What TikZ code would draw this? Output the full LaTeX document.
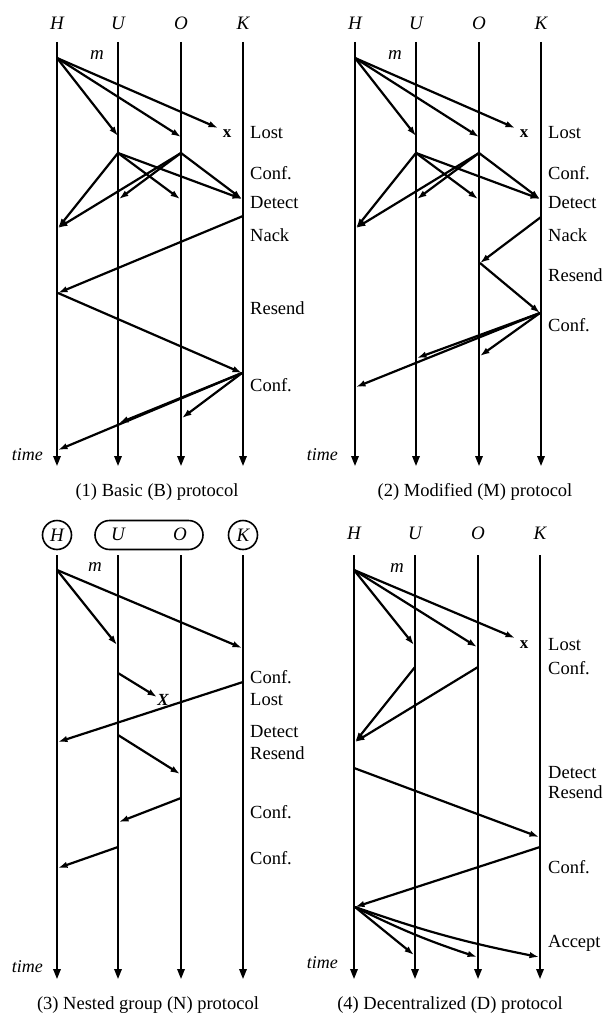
\documentclass[tikz,border=0pt]{standalone}
\usepackage{fontspec}
\setmainfont{Liberation Serif}
\usetikzlibrary{arrows.meta}
\tikzset{
  life/.style={line width=1.7pt, -{Triangle[length=10pt,width=7.5pt]}},
  msg/.style={line width=2.2pt, -{Latex[length=9.5pt,width=6.5pt]}},
  lbl/.style={font=\fontsize{18.5}{20}\selectfont, anchor=west, inner sep=0pt},
  proc/.style={font=\fontsize{19}{20}\selectfont\itshape, inner sep=0pt},
  captext/.style={font=\fontsize{18.5}{20}\selectfont, inner sep=0pt},
  tm/.style={font=\fontsize{18}{20}\selectfont\itshape, anchor=east, inner sep=0pt},
  lostx/.style={font=\fontsize{17}{18}\selectfont\bfseries, inner sep=0pt},
  grp/.style={draw, line width=1.6pt},
}
\begin{document}
\begin{tikzpicture}[x=1pt,y=-1pt]
\useasboundingbox (0,0) rectangle (607,1016);

% ================= Panel 1 =================
\foreach \n/\x in {H/57,U/118,O/181,K/243}{
  \node[proc] (\n1) at (\x,23) {\n};
  \coordinate (\n1t) at (\x,42);
  \coordinate (\n1b) at (\x,466);
  \draw[life] (\n1t) -- (\n1b);
}
\node[proc] (m1) at (97,55) {m};
\coordinate (p1a) at (57,58);
\coordinate (p1u1) at (118,136);
\coordinate (p1o1) at (181,137);
\coordinate (p1xt) at (218,128);
\node[lostx] (X1) at (227,134) {x};
\draw[msg] (p1a) -- (p1u1);
\draw[msg] (p1a) -- (p1o1);
\draw[msg] (p1a) -- (p1xt);
\coordinate (p1uc) at (118,153);
\coordinate (p1oc) at (181,153);
\coordinate (p1hd) at (58,228);
\coordinate (p1ud) at (119,199);
\coordinate (p1od) at (180,199);
\coordinate (p1kd) at (242,199);
\draw[msg] (p1uc) -- (p1hd);
\draw[msg] (p1uc) -- (p1od);
\draw[msg] (p1uc) -- (p1kd);
\draw[msg] (p1oc) -- (p1hd);
\draw[msg] (p1oc) -- (p1ud);
\draw[msg] (p1oc) -- (p1kd);
\coordinate (p1kn) at (243,216);
\coordinate (p1hn) at (58,293);
\coordinate (p1kr) at (242,373);
\draw[msg] (p1kn) -- (p1hn);
\draw[msg] (p1hn) -- (p1kr);
\coordinate (p1hc) at (58,450);
\coordinate (p1uc2) at (119,423);
\coordinate (p1oc2) at (182,418);
\draw[msg] (p1kr) -- (p1hc);
\draw[msg] (p1kr) -- (p1uc2);
\draw[msg] (p1kr) -- (p1oc2);
\node[lbl] (L1a) at (250,133) {Lost};
\node[lbl] (L1b) at (250,173) {Conf.};
\node[lbl] (L1c) at (250,203) {Detect};
\node[lbl] (L1d) at (250,235) {Nack};
\node[lbl] (L1e) at (250,308) {Resend};
\node[lbl] (L1f) at (250,385) {Conf.};
\node[tm] (T1) at (43,455) {time};
\node[captext] (C1) at (157,492) {(1) Basic (B) protocol};

% ================= Panel 2 =================
\foreach \n/\x in {H/355,U/416,O/479,K/541}{
  \node[proc] (\n2) at (\x,23) {\n};
  \coordinate (\n2t) at (\x,42);
  \coordinate (\n2b) at (\x,466);
  \draw[life] (\n2t) -- (\n2b);
}
\node[proc] (m2) at (395,55) {m};
\coordinate (p2a) at (355,58);
\coordinate (p2u1) at (416,136);
\coordinate (p2o1) at (479,137);
\coordinate (p2xt) at (515,128);
\node[lostx] (X2) at (524,134) {x};
\draw[msg] (p2a) -- (p2u1);
\draw[msg] (p2a) -- (p2o1);
\draw[msg] (p2a) -- (p2xt);
\coordinate (p2uc) at (416,153);
\coordinate (p2oc) at (479,153);
\coordinate (p2hd) at (356,228);
\coordinate (p2ud) at (417,199);
\coordinate (p2od) at (478,199);
\coordinate (p2kd) at (540,199);
\draw[msg] (p2uc) -- (p2hd);
\draw[msg] (p2uc) -- (p2od);
\draw[msg] (p2uc) -- (p2kd);
\draw[msg] (p2oc) -- (p2hd);
\draw[msg] (p2oc) -- (p2ud);
\draw[msg] (p2oc) -- (p2kd);
\coordinate (p2kn) at (541,217);
\coordinate (p2on) at (480,263);
\coordinate (p2kr) at (540,313);
\draw[msg] (p2kn) -- (p2on);
\draw[msg] (p2on) -- (p2kr);
\coordinate (p2hc) at (356,387);
\coordinate (p2uc2) at (417,358);
\coordinate (p2oc2) at (480,356);
\draw[msg] (p2kr) -- (p2hc);
\draw[msg] (p2kr) -- (p2uc2);
\draw[msg] (p2kr) -- (p2oc2);
\node[lbl] (L2a) at (548,133) {Lost};
\node[lbl] (L2b) at (548,173) {Conf.};
\node[lbl] (L2c) at (548,203) {Detect};
\node[lbl] (L2d) at (548,235) {Nack};
\node[lbl] (L2e) at (548,275) {Resend};
\node[lbl] (L2f) at (548,325) {Conf.};
\node[tm] (T2) at (338,455) {time};
\node[captext] (C2) at (475,492) {(2) Modified (M) protocol};

% ================= Panel 3 =================
\node[proc, grp, circle, minimum size=29pt] (H3) at (57,535) {H};
\node[grp, rounded corners=14.5pt, minimum width=108pt, minimum height=29pt, inner sep=0pt] (UO3) at (149,535) {};
\node[proc] (U3) at (118,534) {U};
\node[proc] (O3) at (180,534) {O};
\node[proc, grp, circle, minimum size=29pt] (K3) at (243,535) {K};
\foreach \n/\x in {H/57,U/118,O/181,K/243}{
  \coordinate (\n3t) at (\x,555);
  \coordinate (\n3b) at (\x,979);
  \draw[life] (\n3t) -- (\n3b);
}
\node[proc] (m3) at (95,567) {m};
\coordinate (p3a) at (57,570);
\coordinate (p3u1) at (117,645);
\coordinate (p3k1) at (242,648);
\draw[msg] (p3a) -- (p3u1);
\draw[msg] (p3a) -- (p3k1);
\coordinate (p3uc) at (118,673);
\coordinate (p3xt) at (157,697);
\node[lostx, font=\fontsize{17}{18}\selectfont\bfseries\itshape] (X3) at (163,700) {X};
\draw[msg] (p3uc) -- (p3xt);
\coordinate (p3kc) at (243,682);
\coordinate (p3hd) at (58,742);
\draw[msg] (p3kc) -- (p3hd);
\coordinate (p3ur) at (118,735);
\coordinate (p3or) at (180,774);
\draw[msg] (p3ur) -- (p3or);
\coordinate (p3oc) at (181,798);
\coordinate (p3uc2) at (119,822);
\draw[msg] (p3oc) -- (p3uc2);
\coordinate (p3uc3) at (118,847);
\coordinate (p3hc) at (58,868);
\draw[msg] (p3uc3) -- (p3hc);
\node[lbl] (L3a) at (250,677) {Conf.};
\node[lbl] (L3b) at (250,700) {Lost};
\node[lbl] (L3c) at (250,732) {Detect};
\node[lbl] (L3d) at (250,753) {Resend};
\node[lbl] (L3e) at (250,812) {Conf.};
\node[lbl] (L3f) at (250,858) {Conf.};
\node[tm] (T3) at (43,967) {time};
\node[captext] (C3) at (148,1005) {(3) Nested group (N) protocol};

% ================= Panel 4 =================
\foreach \n/\x in {H/354,U/415,O/478,K/540}{
  \node[proc] (\n4) at (\x,533) {\n};
  \coordinate (\n4t) at (\x,555);
  \coordinate (\n4b) at (\x,979);
  \draw[life] (\n4t) -- (\n4b);
}
\node[proc] (m4) at (397,568) {m};
\coordinate (p4a) at (354,570);
\coordinate (p4u1) at (414,645);
\coordinate (p4o1) at (477,647);
\coordinate (p4xt) at (515,638);
\node[lostx] (X4) at (524,645) {x};
\draw[msg] (p4a) -- (p4u1);
\draw[msg] (p4a) -- (p4o1);
\draw[msg] (p4a) -- (p4xt);
\coordinate (p4uc) at (415,667);
\coordinate (p4oc) at (478,667);
\coordinate (p4hd) at (355,742);
\draw[msg] (p4uc) -- (p4hd);
\draw[msg] (p4oc) -- (p4hd);
\coordinate (p4hr) at (354,768);
\coordinate (p4kr) at (539,837);
\draw[msg] (p4hr) -- (p4kr);
\coordinate (p4kc) at (540,847);
\coordinate (p4hc) at (355,907);
\draw[msg] (p4kc) -- (p4hc);
\coordinate (p4ua) at (414,955);
\coordinate (p4oa) at (477,957);
\coordinate (p4ka) at (539,957);
\draw[msg] (p4hc) -- (p4ua);
\draw[msg] (p4hc) to[bend right=4] (p4oa);
\draw[msg] (p4hc) to[bend right=4] (p4ka);
\node[lbl] (L4a) at (548,645) {Lost};
\node[lbl] (L4b) at (548,668) {Conf.};
\node[lbl] (L4c) at (548,773) {Detect};
\node[lbl] (L4d) at (548,792) {Resend};
\node[lbl] (L4e) at (548,867) {Conf.};
\node[lbl] (L4f) at (548,943) {Accept};
\node[tm] (T4) at (338,963) {time};
\node[captext] (C4) at (450,1005) {(4) Decentralized (D) protocol};
\end{tikzpicture}
\end{document}
